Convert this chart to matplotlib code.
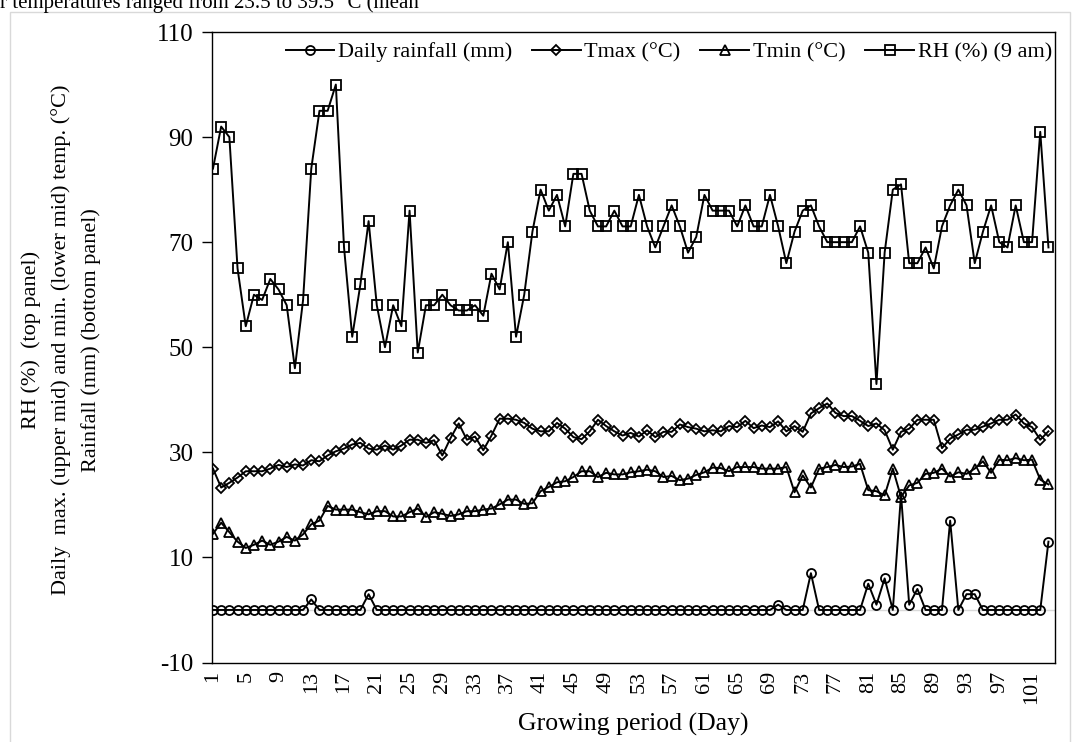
#########################################################
##### Daily weather over the growing period #####
#########################################################
import numpy as np
import matplotlib.pyplot as plt
from matplotlib.patches import Rectangle

plt.rcParams['font.family'] = ['Liberation Serif', 'DejaVu Serif']
plt.rcParams['axes.unicode_minus'] = False

# growing period, days 1..103
days = np.arange(1, 104)

# daily rainfall (mm), zero unless listed
rain = [0]*103
rain_days = [13, 20, 70, 74, 81, 82, 83, 85, 86, 87, 91, 93, 94, 103]
rain_mm = [2, 3, 1, 7, 5, 1, 6, 22, 1, 4, 17, 3, 3, 13]
for d, r in zip(rain_days, rain_mm):
    rain[d-1] = r

tmax = [26.9, 23.3, 24.2, 25.2, 26.4, 26.4, 26.4, 26.9, 27.6, 27.2,
        27.7, 27.5, 28.5, 28.3, 29.4, 30.2, 30.7, 31.5, 31.8, 30.7,
        30.5, 31.3, 30.5, 31.3, 32.4, 32.4, 31.8, 32.3, 29.4, 32.7,
        35.5, 32.4, 33.0, 30.4, 33.2, 36.4, 36.4, 36.2, 35.6, 34.5,
        34.0, 34.0, 35.6, 34.5, 32.9, 32.5, 34.0, 36.2, 35.0, 34.0,
        33.2, 33.7, 33.0, 34.2, 32.9, 33.9, 33.9, 35.3, 34.8, 34.5,
        34.0, 34.2, 34.0, 35.0, 34.8, 36.0, 34.6, 35.1, 34.8, 35.9,
        34.0, 35.0, 33.9, 37.4, 38.4, 39.3, 37.5, 36.9, 36.9, 36.0,
        35.0, 35.5, 34.2, 30.5, 33.9, 34.5, 36.2, 36.2, 36.2, 30.8,
        32.6, 33.4, 34.3, 34.3, 34.9, 35.5, 36.2, 36.2, 37.2, 35.5,
        34.8, 32.4, 34.0]

tmin = [14.5, 16.6, 14.8, 13.0, 11.8, 12.4, 13.2, 12.4, 13.0, 13.9,
        13.2, 14.4, 16.3, 17.0, 19.8, 19.1, 19.1, 19.1, 18.6, 18.2,
        18.8, 18.8, 17.8, 17.8, 18.6, 19.3, 17.7, 18.6, 18.3, 17.9,
        18.2, 18.8, 18.8, 19.1, 19.3, 20.1, 21.0, 21.0, 20.2, 20.3,
        22.6, 23.4, 24.3, 24.5, 25.3, 26.4, 26.4, 25.3, 26.1, 25.8,
        25.8, 26.2, 26.4, 26.7, 26.4, 25.3, 25.5, 24.7, 25.0, 25.7,
        26.2, 27.1, 27.0, 26.4, 27.2, 27.2, 27.2, 26.9, 26.9, 26.9,
        27.2, 22.4, 25.6, 23.3, 26.9, 27.2, 27.6, 27.2, 27.3, 27.8,
        22.8, 22.6, 21.8, 26.9, 21.5, 23.7, 24.2, 25.9, 26.1, 26.9,
        25.4, 26.2, 25.9, 26.9, 28.3, 26.1, 28.6, 28.5, 28.9, 28.5,
        28.6, 24.8, 23.9]

rh = [84, 92, 90, 65, 54, 60, 59, 63, 61, 58,
      46, 59, 84, 95, 95, 100, 69, 52, 62, 74,
      58, 50, 58, 54, 76, 49, 58, 58, 60, 58,
      57, 57, 58, 56, 64, 61, 70, 52, 60, 72,
      80, 76, 79, 73, 83, 83, 76, 73, 73, 76,
      73, 73, 79, 73, 69, 73, 77, 73, 68, 71,
      79, 76, 76, 76, 73, 77, 73, 73, 79, 73,
      66, 72, 76, 77, 73, 70, 70, 70, 70, 73,
      68, 43, 68, 80, 81, 66, 66, 69, 65, 73,
      77, 80, 77, 66, 72, 77, 70, 69, 77, 70,
      70, 91, 69]

y_ticks = [-10, 10, 30, 50, 70, 90, 110]

#########################################################
##### Figure #####
#########################################################
fig = plt.figure(figsize=(10.75, 7.42), dpi=100)
ax = fig.add_axes([211.5/1075, 1-662.5/742, (1055-211.5)/1075, 630.5/742])

estilo = dict(color="black", linewidth=1.4, markerfacecolor="none",
              markeredgecolor="black", markeredgewidth=1.3)
ax.axhline(0, color="#d9d9d9", linewidth=1, zorder=0)
ax.plot(days, rain, marker="o", markersize=6.5, label="Daily rainfall (mm)", **estilo)
ax.plot(days, tmax, marker="D", markersize=5.5, label="Tmax (°C)", **estilo)
ax.plot(days, tmin, marker="^", markersize=7.5, label="Tmin (°C)", **estilo)
ax.plot(days, rh, marker="s", markersize=7.5, label="RH (%) (9 am)", **estilo)

ax.set_xlim(0.82, 103.8)
ax.set_ylim(-10, 110)
ax.set_yticks(y_ticks)
ax.set_xticks(days[::4])
ax.set_xticklabels([str(d) for d in days[::4]], rotation=90, fontsize=16)
ax.tick_params(axis="x", length=0, pad=6)
ax.tick_params(axis="y", direction="out", length=7, width=1, labelsize=18, pad=6)
for s in ax.spines.values():
    s.set_linewidth(1)
    s.set_color("black")

ax.set_xlabel("Growing period (Day)", fontsize=18.5, labelpad=6)

fig.text(61/1075, 1-340/742,
         "RH (%)  (top panel)\n"
         "Daily  max. (upper mid) and min. (lower mid) temp. (°C)\n"
         "Rainfall (mm) (bottom panel)",
         rotation=90, ha="center", va="center", multialignment="center",
         fontsize=16, linespacing=1.7)

ax.legend(loc="center", bbox_to_anchor=(0.542, 0.968), ncol=4, frameon=False,
          fontsize=16, handlelength=2.2, handletextpad=0.15,
          columnspacing=0.9, borderaxespad=0, borderpad=0)

# text of the page above the chart, cut off at the top
fig.text(0.0, 1-8/742, "r temperatures ranged from 23.5 to 39.5 °C (mean",
         fontsize=15, va="baseline", ha="left")
fig.add_artist(Rectangle((9.6/1075, -0.05), (1070-9.6)/1075, 1-11.5/742+0.05,
                         transform=fig.transFigure, fill=False,
                         edgecolor="#d9d9d9", linewidth=1))

plt.savefig("out.png", dpi=100)
